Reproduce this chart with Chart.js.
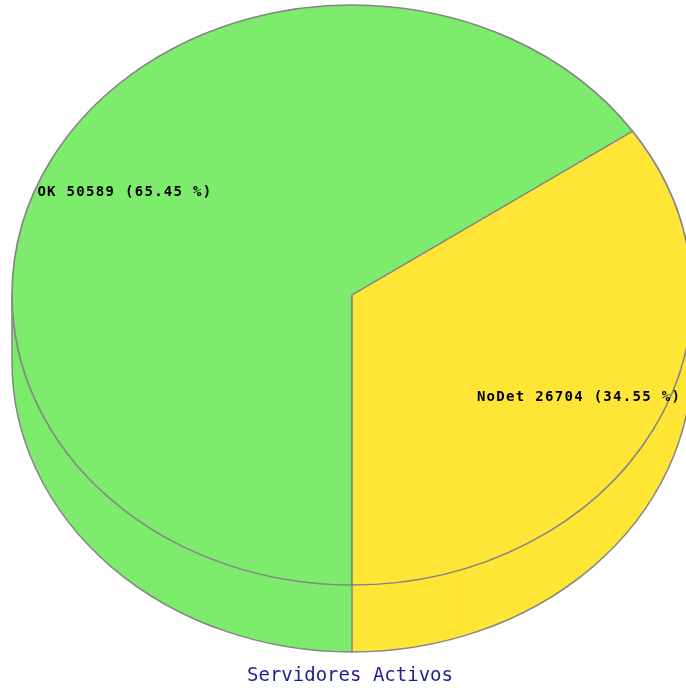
<!DOCTYPE html>
<html>
<head>
<meta charset="utf-8">
<script src="https://cdn.jsdelivr.net/npm/chart.js@4/dist/chart.umd.min.js"></script>
<style>
  body { margin: 0; background: #ffffff; }
  canvas { display: block; }
</style>
</head>
<body>
<canvas id="myChart" width="686" height="692"></canvas>
<script>
const categorias = ['OK', 'NoDet'];
const valores = [50589, 26704];
const porcentajes = ['65.45', '34.55'];
const colores = ['#7deb6c', '#ffe636'];
const titulo = 'Servidores Activos';

// geometria de la elipse (pie 3D)
const cxT = 352, cyT = 295, rx = 340, ry = 290, prof = 67;
const gris = '#858585';

const pie3d = {
    id: 'pie3d',
    beforeDatasetsDraw(chart) {
        const ctx = chart.ctx;
        const arcs = chart.getDatasetMeta(0).data;
        // lateral: capas desplazadas hacia abajo
        ctx.save();
        for (let off = prof; off >= 1; off--) {
            arcs.forEach((a, i) => {
                ctx.beginPath();
                ctx.moveTo(cxT, cyT + off);
                ctx.ellipse(cxT, cyT + off, rx, ry, 0, a.startAngle, a.endAngle);
                ctx.closePath();
                ctx.fillStyle = colores[i];
                ctx.fill();
            });
        }
        ctx.strokeStyle = gris;
        ctx.lineWidth = 1.5;
        // borde inferior
        ctx.beginPath();
        ctx.ellipse(cxT, cyT + prof, rx, ry, 0, 0, Math.PI);
        ctx.stroke();
        // aristas verticales
        const aristas = [0, Math.PI];
        arcs.forEach(a => {
            const ang = ((a.startAngle % (2 * Math.PI)) + 2 * Math.PI) % (2 * Math.PI);
            if (ang > 0 && ang < Math.PI) aristas.push(ang);
        });
        aristas.forEach(ang => {
            const x = cxT + Math.cos(ang) * rx;
            const y = cyT + Math.sin(ang) * ry;
            ctx.beginPath();
            ctx.moveTo(x, y);
            ctx.lineTo(x, y + prof);
            ctx.stroke();
        });
        ctx.restore();
        // cara superior: escalar el circulo a elipse
        const a0 = arcs[0];
        const R = a0.outerRadius;
        ctx.save();
        ctx.translate(cxT, cyT);
        ctx.scale(rx / R, ry / R);
        ctx.translate(-a0.x, -a0.y);
    },
    afterDatasetsDraw(chart) {
        const ctx = chart.ctx;
        ctx.restore();
        const arcs = chart.getDatasetMeta(0).data;
        ctx.save();
        ctx.font = 'bold 14px "DejaVu Sans Mono"';
        ctx.letterSpacing = '1.3px';
        ctx.fillStyle = '#000000';
        ctx.textAlign = 'center';
        ctx.textBaseline = 'middle';
        arcs.forEach((a, i) => {
            const mid = (a.startAngle + a.endAngle) / 2;
            const f = 0.755;
            const x = cxT + Math.cos(mid) * rx * f;
            const y = cyT + Math.sin(mid) * ry * f;
            ctx.fillText(categorias[i] + ' ' + valores[i] + ' (' + porcentajes[i] + ' %)', x, y);
        });
        ctx.restore();
    }
};

document.addEventListener('DOMContentLoaded', () => {
    const ctx = document.getElementById('myChart').getContext('2d');
    const myChart = new Chart(ctx, {
        type: 'pie',
        data: {
            labels: categorias,
            datasets: [{
                data: valores,
                backgroundColor: colores,
                borderColor: gris,
                borderWidth: 1.6,
                clip: false
            }]
        },
        options: {
            responsive: false,
            animation: false,
            rotation: 180,
            events: [],
            layout: { padding: { left: 14 } },
            plugins: {
                legend: { display: false },
                tooltip: { enabled: false },
                title: {
                    display: true,
                    text: titulo,
                    position: 'bottom',
                    color: '#1e1e96',
                    font: { family: 'DejaVu Sans Mono', size: 19, weight: 'normal' },
                    padding: { top: 10, bottom: 5 }
                }
            }
        },
        plugins: [pie3d]
    });
});
</script>
</body>
</html>
